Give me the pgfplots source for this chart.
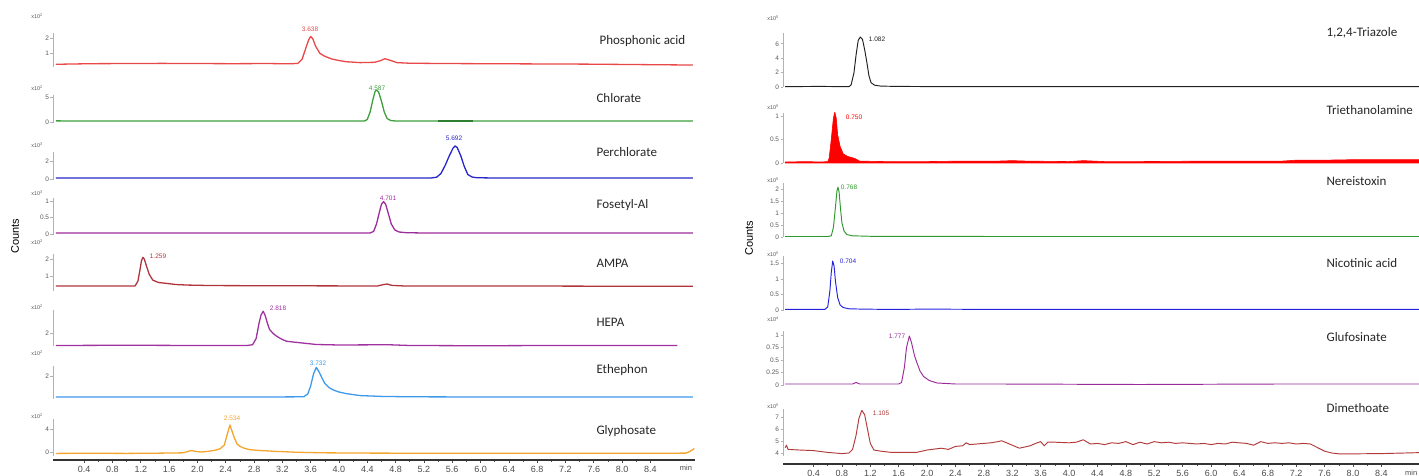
\documentclass[border=0pt]{standalone}
\usepackage{fontspec}
\setmainfont{Liberation Sans}
\newfontfamily\namefont{Carlito}
\usepackage{pgfplots}
\pgfplotsset{compat=1.18}

% trace colours
\definecolor{cPhos}{HTML}{E84848}
\definecolor{cChl}{HTML}{3C9E3C}
\definecolor{cPer}{HTML}{2626C8}
\definecolor{cFos}{HTML}{9C2C9C}
\definecolor{cAmpa}{HTML}{B0343C}
\definecolor{cHepa}{HTML}{A032A0}
\definecolor{cEth}{HTML}{3D9AEB}
\definecolor{cGly}{HTML}{F4A530}
\definecolor{cTri}{HTML}{202020}
\definecolor{cTea}{HTML}{FF0000}
\definecolor{cNer}{HTML}{2E9A2E}
\definecolor{cNic}{HTML}{2222DD}
\definecolor{cGlu}{HTML}{9A2A9A}
\definecolor{cDim}{HTML}{B23A3A}

\pgfplotsset{
  chrom/.style={
    scale only axis, anchor=south west, clip=false,
    axis x line=none, axis y line*=left,
    axis line style={draw=gray!60, line width=0.7pt},
    tick align=outside, major tick length=2.5pt,
    ytick style={draw=gray!60, line width=0.6pt},
    yticklabel style={font=\fontsize{6.5}{7}\selectfont, text=black!65, inner sep=1.2pt},
    /pgf/number format/assume math mode=true,
    every axis plot/.append style={no markers, line join=round},
  },
  lpanel/.style={chrom, xmin=-0.04, xmax=9.03, width=642pt,
    every axis plot/.append style={line width=1.3pt}},
  rpanel/.style={chrom, xmin=-0.03, xmax=8.93, width=636pt,
    every axis plot/.append style={line width=0.95pt}},
  timeaxis/.style={
    scale only axis, anchor=south west, height=20pt,
    ymin=0, ymax=1, axis y line=none, axis x line*=bottom,
    axis line style={draw=black!80, line width=1.3pt},
    tick align=outside, major tick length=3pt, minor tick length=2pt,
    xtick={0.4,0.8,1.2,1.6,2.0,2.4,2.8,3.2,3.6,4.0,4.4,4.8,5.2,5.6,6.0,6.4,6.8,7.2,7.6,8.0,8.4},
    minor x tick num=1,
    tick style={draw=black!70, line width=0.6pt},
    xticklabel style={font=\fontsize{9}{10}\selectfont, text=black!70,
      /pgf/number format/.cd, fixed, fixed zerofill, precision=1, assume math mode=true},
  },
}

\tikzset{
  cname/.style={anchor=west, font=\namefont\fontsize{13}{14}\selectfont, text=black!85},
  pk/.style={font=\fontsize{6.5}{7}\selectfont, inner sep=0pt},
  xten/.style={anchor=east, font=\fontsize{5.5}{6}\selectfont, text=black!65, inner sep=0pt},
}

\begin{document}
\begin{tikzpicture}
\useasboundingbox (0,0) rectangle (1419pt,476pt);

%================ left stack ================
% Phosphonic acid
\begin{axis}[lpanel, at={(53pt,409pt)}, height=34pt, ymin=0.07, ymax=2.33, ytick={1,2}]
\addplot[cPhos] coordinates {
 (0.0,0.25)(0.5,0.29)(1.0,0.3)(1.5,0.31)(2.0,0.3)(2.5,0.29)(3.0,0.3)(3.3,0.28)
 (3.42,0.31)(3.48,0.6)(3.53,1.3)(3.57,1.85)(3.60,2.1)(3.63,1.95)(3.67,1.45)
 (3.73,0.98)(3.8,0.78)(3.9,0.6)(4.0,0.5)(4.1,0.42)(4.3,0.36)(4.5,0.38)(4.58,0.48)
 (4.65,0.62)(4.72,0.52)(4.82,0.36)(5.0,0.32)(5.5,0.3)(6.0,0.29)(6.5,0.28)(7.0,0.27)
 (7.5,0.26)(8.0,0.24)(8.5,0.22)(9.0,0.2)};
\end{axis}
% Chlorate
\begin{axis}[lpanel, at={(53pt,353pt)}, height=28pt, ymin=-0.2, ymax=5.4, ytick={0,5}]
\addplot[cChl] coordinates {
 (0.0,0.22)(1.0,0.2)(2.0,0.21)(3.0,0.2)(4.0,0.2)(4.36,0.2)(4.40,0.5)(4.44,2.0)
 (4.48,4.5)(4.51,6.1)(4.53,6.4)(4.56,6.0)(4.60,4.2)(4.64,2.0)(4.68,0.7)(4.73,0.3)
 (4.8,0.2)(5.5,0.2)(6.5,0.2)(7.5,0.2)(9.0,0.2)};
\addplot[cChl!80!black, line width=2.2pt] coordinates {(5.40,0.2)(5.89,0.2)};
\end{axis}
% Perchlorate
\begin{axis}[lpanel, at={(53pt,296pt)}, height=28pt, ymin=-0.11, ymax=3.0, ytick={0,2}]
\addplot[cPer] coordinates {
 (0.0,0.11)(2.0,0.11)(4.0,0.11)(5.3,0.11)(5.38,0.2)(5.44,0.6)(5.50,1.5)(5.56,2.6)
 (5.61,3.4)(5.64,3.67)(5.67,3.5)(5.72,2.6)(5.77,1.4)(5.82,0.5)(5.88,0.22)(5.95,0.14)
 (6.2,0.11)(7.5,0.11)(9.0,0.11)};
\end{axis}
% Fosetyl-Al
\begin{axis}[lpanel, at={(53pt,241pt)}, height=37pt, ymin=-0.03, ymax=1.09, ytick={0,0.5,1}]
\addplot[cFos] coordinates {
 (0.0,0.03)(2.0,0.03)(4.0,0.03)(4.44,0.03)(4.49,0.08)(4.53,0.3)(4.57,0.65)(4.60,0.9)
 (4.63,0.98)(4.66,0.9)(4.70,0.6)(4.74,0.3)(4.79,0.12)(4.85,0.06)(4.95,0.04)(5.2,0.03)
 (7.0,0.03)(9.0,0.03)};
\end{axis}
% AMPA
\begin{axis}[lpanel, at={(53pt,185pt)}, height=37pt, ymin=0.12, ymax=2.3, ytick={1,2}]
\addplot[cAmpa] coordinates {
 (0.0,0.42)(0.5,0.41)(1.0,0.41)(1.12,0.42)(1.16,0.7)(1.19,1.4)(1.21,1.9)(1.23,2.1)
 (1.25,2.0)(1.28,1.6)(1.32,1.1)(1.37,0.76)(1.45,0.62)(1.56,0.57)(1.7,0.5)(1.85,0.47)
 (2.2,0.44)(3.0,0.43)(4.0,0.42)(4.55,0.42)(4.63,0.5)(4.68,0.53)(4.75,0.45)(4.9,0.42)
 (6.0,0.41)(7.0,0.41)(8.0,0.4)(9.0,0.4)};
\end{axis}
% HEPA
\begin{axis}[lpanel, at={(53pt,130pt)}, height=35.5pt, ymin=1.5, ymax=2.92, ytick={2}]
\addplot[cHepa] coordinates {
 (0.0,1.52)(1.0,1.53)(2.0,1.52)(2.7,1.52)(2.78,1.55)(2.83,1.8)(2.87,2.4)(2.9,2.75)
 (2.93,2.89)(2.96,2.7)(2.99,2.4)(3.02,2.16)(3.07,2.0)(3.12,1.89)(3.2,1.76)(3.26,1.69)
 (3.35,1.66)(3.45,1.63)(3.68,1.56)(4.0,1.54)(4.7,1.55)(5.0,1.52)(6.0,1.51)(7.0,1.52)
 (8.0,1.52)(8.78,1.52)};
\end{axis}
% Ethephon
\begin{axis}[lpanel, at={(53pt,77pt)}, height=33pt, ymin=0.85, ymax=2.5, ytick={2}]
\addplot[cEth] coordinates {
 (0.0,0.95)(1.5,0.95)(3.0,0.95)(3.5,0.96)(3.56,1.1)(3.6,1.5)(3.64,2.1)(3.68,2.43)
 (3.72,2.2)(3.76,1.9)(3.8,1.63)(3.86,1.42)(3.92,1.3)(4.0,1.2)(4.1,1.12)(4.3,1.02)
 (4.6,0.98)(5.0,0.96)(6.0,0.95)(7.0,0.95)(8.0,0.95)(9.0,0.95)};
\end{axis}
% Glyphosate
\begin{axis}[lpanel, at={(53pt,20pt)}, height=37pt, ymin=-0.7, ymax=5.74, ytick={0,4}]
\addplot[cGly] coordinates {
 (0.0,-0.25)(0.5,-0.22)(1.0,-0.25)(1.5,-0.2)(1.8,-0.15)(1.88,0.15)(1.92,0.25)(1.97,0.1)
 (2.05,0.0)(2.15,0.1)(2.25,0.3)(2.32,0.55)(2.38,1.2)(2.42,3.0)(2.46,4.7)(2.49,3.6)
 (2.52,2.5)(2.56,1.4)(2.6,1.0)(2.65,0.7)(2.72,0.45)(2.79,0.35)(2.88,0.25)(2.98,0.2)
 (3.1,0.1)(3.2,0.06)(3.4,-0.05)(3.8,-0.15)(4.5,-0.2)(5.5,-0.22)(6.5,-0.23)(7.5,-0.23)
 (8.5,-0.22)(8.9,-0.2)(8.96,0.1)(9.02,0.6)};
\end{axis}
% time axis (left)
\begin{axis}[timeaxis, at={(53pt,16pt)}, width=642pt, xmin=-0.04, xmax=9.03]
\end{axis}

%================ right stack ================
% 1,2,4-Triazole
\begin{axis}[rpanel, at={(783pt,389pt)}, height=54pt, ymin=0, ymax=7.5, ytick={0,2,4,6}]
\addplot[cTri] coordinates {
 (0.0,0.05)(0.5,0.08)(0.8,0.05)(0.9,0.05)(0.93,0.3)(0.97,2.0)(1.0,4.5)(1.03,6.5)
 (1.06,6.94)(1.09,6.6)(1.12,5.2)(1.15,3.5)(1.18,1.6)(1.21,0.6)(1.26,0.25)(1.35,0.12)
 (1.6,0.08)(2.0,0.06)(3.0,0.05)(4.0,0.04)(5.0,0.05)(6.0,0.06)(7.0,0.04)(8.0,0.05)(8.93,0.05)};
\end{axis}
% Triethanolamine
\begin{axis}[rpanel, at={(783pt,313pt)}, height=50pt, ymin=0, ymax=1.06, ytick={0,0.5,1}]
\addplot[draw=cTea, fill=cTea, line width=0.6pt] coordinates {
 (0.0,0.02)(0.3,0.03)(0.5,0.02)(0.6,0.03)(0.62,0.1)(0.65,0.5)(0.68,0.95)(0.70,1.08)
 (0.72,0.95)(0.74,0.6)(0.775,0.35)(0.82,0.19)(0.88,0.14)(0.95,0.11)(0.99,0.09)(1.05,0.04)
 (1.4,0.03)(2.0,0.03)(2.5,0.04)(3.0,0.04)(3.2,0.05)(3.4,0.04)(4.0,0.03)(4.2,0.05)
 (4.5,0.03)(5.0,0.03)(6.0,0.04)(7.0,0.04)(7.2,0.06)(7.6,0.06)(8.0,0.07)(8.5,0.07)(8.93,0.07)}
 \closedcycle;
\end{axis}
% Nereistoxin
\begin{axis}[rpanel, at={(783pt,239pt)}, height=54pt, ymin=0, ymax=2.28, ytick={0,0.5,1,1.5,2}]
\addplot[cNer] coordinates {
 (0.0,0.02)(0.6,0.02)(0.65,0.05)(0.68,0.4)(0.71,1.3)(0.73,1.95)(0.745,2.1)(0.76,1.9)
 (0.78,1.2)(0.8,0.6)(0.83,0.25)(0.87,0.1)(0.95,0.05)(1.2,0.03)(2.0,0.03)(3.0,0.02)
 (5.0,0.02)(7.0,0.02)(8.93,0.02)};
\end{axis}
% Nicotinic acid
\begin{axis}[rpanel, at={(783pt,165pt)}, height=55pt, ymin=-0.03, ymax=1.73, ytick={0,0.5,1,1.5}]
\addplot[cNic] coordinates {
 (0.0,0.02)(0.56,0.02)(0.6,0.1)(0.63,0.6)(0.65,1.2)(0.67,1.57)(0.69,1.4)(0.71,0.9)
 (0.74,0.4)(0.775,0.16)(0.82,0.08)(0.9,0.04)(1.1,0.03)(1.5,0.02)(2.0,0.03)(3.0,0.02)
 (5.0,0.02)(7.0,0.02)(8.93,0.02)};
\end{axis}
% Glufosinate
\begin{axis}[rpanel, at={(783pt,90pt)}, height=55pt, ymin=-0.02, ymax=1.08, ytick={0,0.25,0.5,0.75,1}]
\addplot[cGlu] coordinates {
 (0.0,0.02)(0.5,0.02)(0.95,0.02)(1.0,0.05)(1.05,0.02)(1.6,0.02)(1.64,0.05)(1.68,0.35)
 (1.71,0.75)(1.75,0.98)(1.78,0.85)(1.82,0.6)(1.85,0.47)(1.9,0.28)(1.95,0.17)(2.03,0.09)
 (2.14,0.04)(2.4,0.02)(3.0,0.02)(5.0,0.01)(7.0,0.02)(8.93,0.02)};
\end{axis}
% Dimethoate
\begin{axis}[rpanel, at={(783pt,20pt)}, height=47pt, ymin=3.75, ymax=7.67, ytick={4,5,6,7}]
\addplot[cDim] coordinates {
 (0.0,4.45)(0.02,4.65)(0.04,4.3)(0.2,4.25)(0.4,4.2)(0.6,4.05)(0.8,3.95)(0.9,4.0)
 (0.95,4.3)(1.0,5.5)(1.04,6.9)(1.08,7.55)(1.12,7.2)(1.16,6.0)(1.2,4.8)(1.25,4.25)
 (1.35,4.15)(1.5,4.05)(1.7,4.05)(1.85,4.05)(2.0,4.25)(2.2,4.4)(2.3,4.3)(2.4,4.55)
 (2.5,4.6)(2.55,4.85)(2.6,4.7)(2.7,4.75)(2.8,4.8)(2.9,4.85)(3.0,4.95)(3.05,5.02)
 (3.1,4.9)(3.3,4.4)(3.45,4.6)(3.55,4.85)(3.6,4.95)(3.65,4.6)(3.7,4.9)(3.8,4.9)
 (4.0,4.85)(4.1,4.9)(4.2,5.1)(4.3,4.75)(4.4,4.8)(4.5,4.7)(4.6,4.85)(4.7,4.8)
 (4.8,4.95)(4.9,4.7)(5.0,4.9)(5.1,4.75)(5.2,4.95)(5.3,4.85)(5.4,4.9)(5.5,4.8)
 (5.6,4.85)(5.7,4.8)(5.8,4.75)(5.9,4.8)(6.0,4.7)(6.1,4.8)(6.2,4.75)(6.3,4.9)
 (6.4,4.85)(6.5,4.8)(6.6,4.65)(6.7,4.95)(6.8,4.8)(6.9,4.85)(7.0,4.8)(7.1,4.85)
 (7.2,4.75)(7.3,4.8)(7.4,4.75)(7.5,4.45)(7.6,4.15)(7.7,4.0)(7.8,3.93)(8.0,3.93)
 (8.4,3.95)(8.93,4.03)};
\end{axis}
% time axis (right)
\begin{axis}[timeaxis, at={(783pt,12pt)}, width=636pt, xmin=-0.03, xmax=8.93]
\end{axis}

%================ text ================
\node[font=\fontsize{7.5}{8}\selectfont, text=black!70] at (686pt,8pt) {min};
\node[font=\fontsize{7.5}{8}\selectfont, text=black!70, anchor=east, inner sep=0.5pt] at (1418pt,3pt) {min};

\node[rotate=90, font=\fontsize{11}{12}\selectfont] at (15pt,240pt) {Counts};
\node[rotate=90, font=\fontsize{11}{12}\selectfont] at (749pt,238pt) {Counts};

% exponent labels
\node[xten] at (43pt,460pt) {x10\textsuperscript{2}};
\node[xten] at (43pt,388pt) {x10\textsuperscript{2}};
\node[xten] at (43pt,331pt) {x10\textsuperscript{3}};
\node[xten] at (43pt,283pt) {x10\textsuperscript{3}};
\node[xten] at (43pt,234pt) {x10\textsuperscript{2}};
\node[xten] at (43pt,169pt) {x10\textsuperscript{2}};
\node[xten] at (43pt,123pt) {x10\textsuperscript{2}};
\node[xten] at (43pt,60pt) {x10\textsuperscript{2}};
\node[xten] at (779pt,458pt) {x10\textsuperscript{5}};
\node[xten] at (779pt,369pt) {x10\textsuperscript{5}};
\node[xten] at (779pt,296pt) {x10\textsuperscript{5}};
\node[xten] at (779pt,222pt) {x10\textsuperscript{5}};
\node[xten] at (779pt,157pt) {x10\textsuperscript{4}};
\node[xten] at (779pt,70pt) {x10\textsuperscript{5}};

% peak retention times
\node[pk, text=cPhos] at (310pt,447pt) {3.638};
\node[pk, text=cChl] at (377pt,388pt) {4.587};
\node[pk, text=cPer] at (454pt,338pt) {5.692};
\node[pk, text=cFos] at (388pt,278pt) {4.701};
\node[pk, text=cAmpa] at (158pt,220pt) {1.259};
\node[pk, text=cHepa] at (278pt,168pt) {2.818};
\node[pk, text=cEth] at (318pt,113pt) {3.732};
\node[pk, text=cGly] at (232pt,58pt) {2.534};
\node[pk, text=cTri] at (877pt,437pt) {1.082};
\node[pk, text=cTea] at (854pt,359pt) {0.750};
\node[pk, text=cNer] at (849pt,289pt) {0.768};
\node[pk, text=cNic] at (848pt,215pt) {0.704};
\node[pk, text=cGlu] at (897pt,140pt) {1.777};
\node[pk, text=cDim] at (881pt,63pt) {1.105};

% compound names
\node[cname] at (596pt,435pt) {Phosphonic acid};
\node[cname] at (593pt,378pt) {Chlorate};
\node[cname] at (593pt,324pt) {Perchlorate};
\node[cname] at (593pt,271pt) {Fosetyl-Al};
\node[cname] at (593pt,213pt) {AMPA};
\node[cname] at (593pt,154pt) {HEPA};
\node[cname] at (593pt,106pt) {Ethephon};
\node[cname] at (593pt,45pt) {Glyphosate};
\node[cname] at (1323pt,443pt) {1,2,4-Triazole};
\node[cname] at (1323pt,366pt) {Triethanolamine};
\node[cname] at (1323pt,295pt) {Nereistoxin};
\node[cname] at (1323pt,213pt) {Nicotinic acid};
\node[cname] at (1323pt,139pt) {Glufosinate};
\node[cname] at (1323pt,68pt) {Dimethoate};
\end{tikzpicture}
\end{document}
